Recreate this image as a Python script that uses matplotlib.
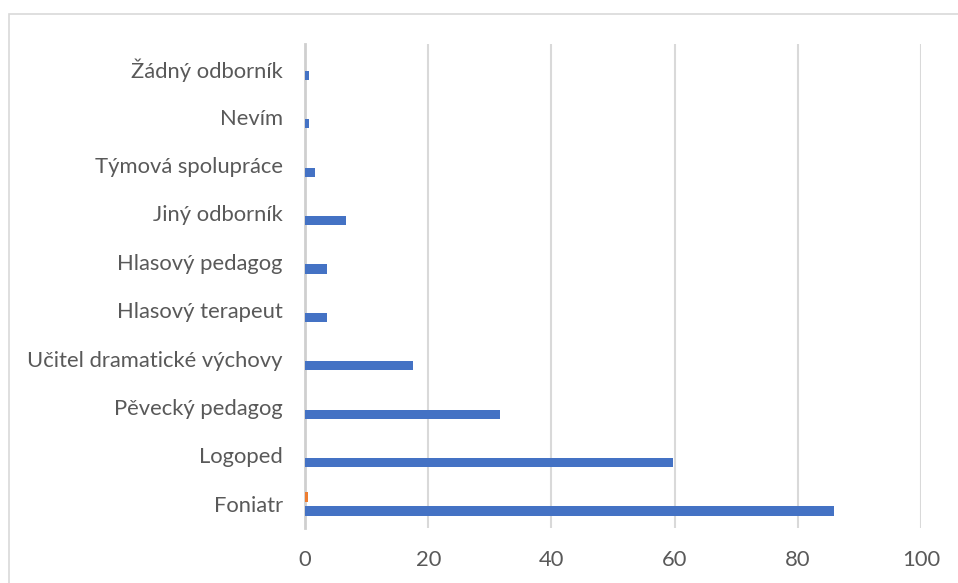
import numpy as np
import matplotlib.pyplot as plt
from matplotlib.patches import Rectangle

# categories bottom -> top
categories = ['Foniatr', 'Logoped', 'Pěvecký pedagog', 'Učitel dramatické výchovy',
              'Hlasový terapeut', 'Hlasový pedagog', 'Jiný odborník',
              'Týmová spolupráce', 'Nevím', 'Žádný odborník']
blue_vals = [85.8, 59.8, 31.6, 17.6, 3.6, 3.6, 6.6, 1.6, 0.7, 0.7]
orange_vals = [0.5, 0, 0, 0, 0, 0, 0, 0, 0, 0]
xticks = [0, 20, 40, 60, 80, 100]

plt.rcParams['font.family'] = ['Lato', 'DejaVu Sans']

fig = plt.figure(figsize=(9.58, 5.83), dpi=100)
ax = fig.add_axes([305 / 958, 1 - 528 / 583, 616 / 958, 484 / 583])

y = np.arange(len(categories))
h = 0.19
ax.barh(y - 0.15, blue_vals, height=h, color='#4472C4', zorder=3)
ax.barh(y + 0.14, orange_vals, height=h, color='#ED7D31', zorder=3)

ax.set_ylim(-0.5, len(categories) - 0.5)
ax.set_xlim(0, 100)
ax.set_xticks(xticks)
ax.set_yticks(y)
ax.set_yticklabels(categories)

ax.grid(axis='x', color='#d9d9d9', linewidth=1.5, zorder=0)
for s in ['top', 'right', 'bottom']:
    ax.spines[s].set_visible(False)
ax.spines['left'].set_color('#cfcfcf')
ax.spines['left'].set_linewidth(2)
ax.tick_params(axis='both', length=0, labelsize=15.8, colors='#595959')
ax.tick_params(axis='y', pad=16)
ax.tick_params(axis='x', pad=16)

# chart border
fig.patches.append(Rectangle((9 / 958, -0.05), 1.0, 1 - 14 / 583 + 0.05,
                             transform=fig.transFigure, fill=False,
                             edgecolor='#d9d9d9', linewidth=1.2))

fig.savefig('out.png', dpi=100)
